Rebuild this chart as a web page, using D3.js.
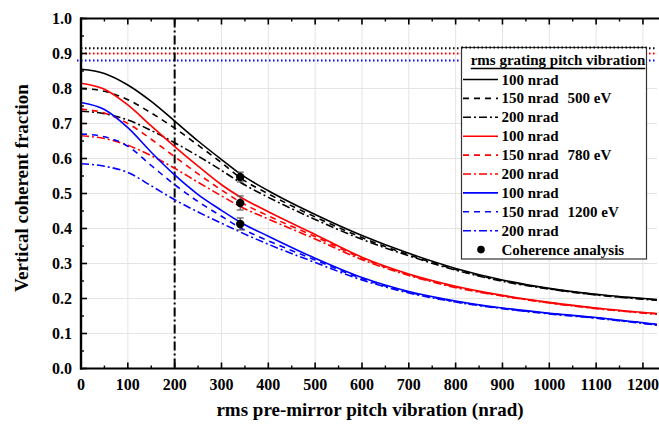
<!DOCTYPE html>
<html><head><meta charset="utf-8">
<script src="https://cdn.jsdelivr.net/npm/d3@7"></script>
<style>body{margin:0;background:#fff}svg{display:block}</style>
</head><body><svg id="c" width="659" height="427" font-family="'Liberation Serif', 'Times New Roman', Times, 'DejaVu Serif', serif" font-weight="bold"></svg>
<script>
// ---- data ----
const xVals = [0,50,100,150,200,250,300,340,400,500,600,700,800,900,1000,1100,1230];
const e500_100 = [0.855,0.843,0.810,0.763,0.707,0.650,0.597,0.556,0.508,0.440,0.380,0.329,0.286,0.253,0.229,0.212,0.197];
const e500_150 = [0.800,0.792,0.768,0.730,0.687,0.638,0.588,0.545,0.499,0.433,0.374,0.325,0.283,0.251,0.228,0.211,0.196];
const e500_200 = [0.735,0.728,0.710,0.680,0.645,0.607,0.566,0.532,0.489,0.426,0.369,0.322,0.281,0.249,0.227,0.210,0.195];
const e780_100 = [0.815,0.798,0.753,0.693,0.634,0.578,0.525,0.490,0.448,0.383,0.318,0.270,0.235,0.209,0.189,0.173,0.157];
const e780_150 = [0.741,0.730,0.700,0.655,0.605,0.556,0.510,0.476,0.436,0.377,0.315,0.268,0.233,0.208,0.188,0.172,0.156];
const e780_200 = [0.665,0.657,0.638,0.608,0.572,0.532,0.493,0.463,0.427,0.370,0.311,0.266,0.231,0.207,0.187,0.171,0.155];
const e1200_100 = [0.760,0.740,0.688,0.618,0.553,0.497,0.452,0.418,0.378,0.315,0.260,0.220,0.193,0.173,0.158,0.1455,0.126];
const e1200_150 = [0.670,0.662,0.635,0.580,0.525,0.477,0.435,0.402,0.365,0.310,0.257,0.218,0.191,0.172,0.157,0.1445,0.125];
const e1200_200 = [0.585,0.578,0.560,0.522,0.482,0.447,0.415,0.390,0.355,0.303,0.253,0.216,0.190,0.171,0.156,0.1435,0.124];
const ptX = [340,340,340];
const ptY = [0.547,0.473,0.413];
const ptErr = [0.014,0.020,0.017];
const refLevels = [0.915,0.900,0.880];
const refColors = ["#000000","#ff0000","#0000ff"];
const vLineX = 200;
const xTicks = [0,100,200,300,400,500,600,700,800,900,1000,1100,1200];
const yTicks = [0,0.1,0.2,0.3,0.4,0.5,0.6,0.7,0.8,0.9,1.0];
const legendTitle = "rms grating pitch vibration";
const legendLabels = ["100 nrad","150 nrad","200 nrad"];
const energyLabels = ["500 eV","780 eV","1200 eV"];

const series = [
  {v:e500_100,c:"#000000",d:null},{v:e500_150,c:"#000000",d:"6,5"},{v:e500_200,c:"#000000",d:"8,3,2,3"},
  {v:e780_100,c:"#ff0000",d:null},{v:e780_150,c:"#ff0000",d:"6,5"},{v:e780_200,c:"#ff0000",d:"8,3,2,3"},
  {v:e1200_100,c:"#0000ff",d:null},{v:e1200_150,c:"#0000ff",d:"6,5"},{v:e1200_200,c:"#0000ff",d:"8,3,2,3"}
];

// ---- layout ----
const L=81, R=657, T=18.5, B=368.5;
const svg = d3.select("#c");
const x = d3.scaleLinear().domain([0,1230]).range([L,R]);
const y = d3.scaleLinear().domain([0,1]).range([B,T]);

// grid
const g = svg.append("g");
g.selectAll(".gx").data(xTicks.slice(1)).join("line").attr("x1",d=>x(d)).attr("x2",d=>x(d)).attr("y1",T).attr("y2",B).attr("stroke","#e4e4e4").attr("stroke-width",1);
g.selectAll(".gy").data(yTicks.slice(1,-1)).join("line").attr("x1",L).attr("x2",R).attr("y1",d=>y(d)).attr("y2",d=>y(d)).attr("stroke","#e4e4e4").attr("stroke-width",1);

// reference dotted lines
svg.selectAll(".ref").data(refLevels).join("line").attr("x1",(d,i)=>i==2?77:L).attr("x2",R).attr("y1",d=>y(d)).attr("y2",d=>y(d))
  .attr("stroke",(d,i)=>refColors[i]).attr("stroke-width",2).attr("stroke-dasharray","1.5,2.5");

// vertical dash-dot line
svg.append("line").attr("x1",x(vLineX)).attr("x2",x(vLineX)).attr("y1",T).attr("y2",B).attr("stroke","#000").attr("stroke-width",2).attr("stroke-dasharray","9,3,2,3");

// curves
const line = d3.line().x((d,i)=>x(xVals[i])).y(d=>y(d)).curve(d3.curveMonotoneX);
svg.selectAll(".s").data(series).join("path").attr("d",s=>line(s.v)).attr("fill","none").attr("stroke",s=>s.c).attr("stroke-width",1.6).attr("stroke-dasharray",s=>s.d);

// data points with error bars
const pts = ptX.map((d,i)=>({x:d,y:ptY[i],e:ptErr[i]}));
const pg = svg.append("g");
pg.selectAll(".eb").data(pts).join("line").attr("x1",d=>x(d.x)).attr("x2",d=>x(d.x)).attr("y1",d=>y(d.y+d.e)).attr("y2",d=>y(d.y-d.e)).attr("stroke","#555").attr("stroke-width",1.2);
pg.selectAll(".ct").data(pts).join("line").attr("x1",d=>x(d.x)-3.5).attr("x2",d=>x(d.x)+3.5).attr("y1",d=>y(d.y+d.e)).attr("y2",d=>y(d.y+d.e)).attr("stroke","#555").attr("stroke-width",1.2);
pg.selectAll(".cb").data(pts).join("line").attr("x1",d=>x(d.x)-3.5).attr("x2",d=>x(d.x)+3.5).attr("y1",d=>y(d.y-d.e)).attr("y2",d=>y(d.y-d.e)).attr("stroke","#555").attr("stroke-width",1.2);
pg.selectAll("circle").data(pts).join("circle").attr("cx",d=>x(d.x)).attr("cy",d=>y(d.y)).attr("r",4.2).attr("fill","#000");

// axes
const minorX = d3.range(50,1230,100);
const minorY = d3.range(0.05,1,0.1);
const ax = svg.append("g").attr("stroke","#000");
ax.append("line").attr("x1",L-1).attr("x2",R+2).attr("y1",B).attr("y2",B).attr("stroke-width",2.2);
ax.selectAll(".tb").data(xTicks).join("line").attr("x1",d=>x(d)).attr("x2",d=>x(d)).attr("y1",B).attr("y2",B-6).attr("stroke-width",1.6);
ax.selectAll(".tbm").data(minorX).join("line").attr("x1",d=>x(d)).attr("x2",d=>x(d)).attr("y1",B).attr("y2",B-3).attr("stroke-width",1.4);
ax.append("line").attr("x1",L-1).attr("x2",R+2).attr("y1",T).attr("y2",T).attr("stroke-width",2.2);
ax.selectAll(".tt").data(xTicks).join("line").attr("x1",d=>x(d)).attr("x2",d=>x(d)).attr("y1",T).attr("y2",T+6).attr("stroke-width",1.6);
ax.selectAll(".ttm").data(minorX).join("line").attr("x1",d=>x(d)).attr("x2",d=>x(d)).attr("y1",T).attr("y2",T+3).attr("stroke-width",1.4);
ax.append("line").attr("x1",L).attr("x2",L).attr("y1",T-1).attr("y2",B+1).attr("stroke-width",2.4);
ax.selectAll(".tl").data(yTicks).join("line").attr("x1",L).attr("x2",L+6).attr("y1",d=>y(d)).attr("y2",d=>y(d)).attr("stroke-width",1.6);
ax.selectAll(".tlm").data(minorY).join("line").attr("x1",L).attr("x2",L+3).attr("y1",d=>y(d)).attr("y2",d=>y(d)).attr("stroke-width",1.4);

// tick labels
svg.selectAll(".xl").data(xTicks).join("text").attr("x",d=>x(d)).attr("y",390).attr("text-anchor","middle").attr("font-size",16).text(d=>d);
svg.selectAll(".yl").data(yTicks).join("text").attr("x",72).attr("y",d=>y(d)+5.5).attr("text-anchor","end").attr("font-size",16).text(d=>d3.format(".1f")(d));

// axis titles
svg.append("text").attr("x",370).attr("y",416).attr("text-anchor","middle").attr("font-size",19).text("rms pre-mirror pitch vibration (nrad)");
svg.append("text").attr("transform","translate(28,188) rotate(-90)").attr("text-anchor","middle").attr("font-size",19).text("Vertical coherent fraction");

// legend
const lg = svg.append("g");
const LX=461.5, LY=47.5, LW=185, LH=211.5;
lg.append("rect").attr("x",LX).attr("y",LY).attr("width",LW).attr("height",LH).attr("fill","#fff").attr("stroke","#333").attr("stroke-width",1.2);
lg.append("line").attr("x1",LX).attr("x2",LX+LW).attr("y1",LY).attr("y2",LY).attr("stroke","#000").attr("stroke-width",2).attr("stroke-dasharray","1.5,2.5");
const tt = lg.append("text").attr("x",558).attr("y",64.5).attr("text-anchor","middle").attr("font-size",15).text(legendTitle);
const tl = tt.node().getComputedTextLength();
lg.append("line").attr("x1",558-tl/2).attr("x2",558+tl/2).attr("y1",68.5).attr("y2",68.5).attr("stroke","#000").attr("stroke-width",1.5);
const rowY = i => 79.5 + i*18.9;
series.forEach((s,i)=>{
  const yy=rowY(i);
  lg.append("line").attr("x1",463).attr("x2",498).attr("y1",yy).attr("y2",yy).attr("stroke",s.c).attr("stroke-width",1.6).attr("stroke-dasharray",s.d);
  lg.append("text").attr("x",501.5).attr("y",yy+5).attr("font-size",15).text(legendLabels[i%3]);
});
energyLabels.forEach((t,k)=>{
  lg.append("text").attr("x",567.5).attr("y",rowY(k*3+1)+5).attr("font-size",15).text(t);
});
lg.append("circle").attr("cx",481).attr("cy",rowY(9)).attr("r",3.8).attr("fill","#000");
lg.append("text").attr("x",501.5).attr("y",rowY(9)+5).attr("font-size",15).text("Coherence analysis");
</script></body></html>
